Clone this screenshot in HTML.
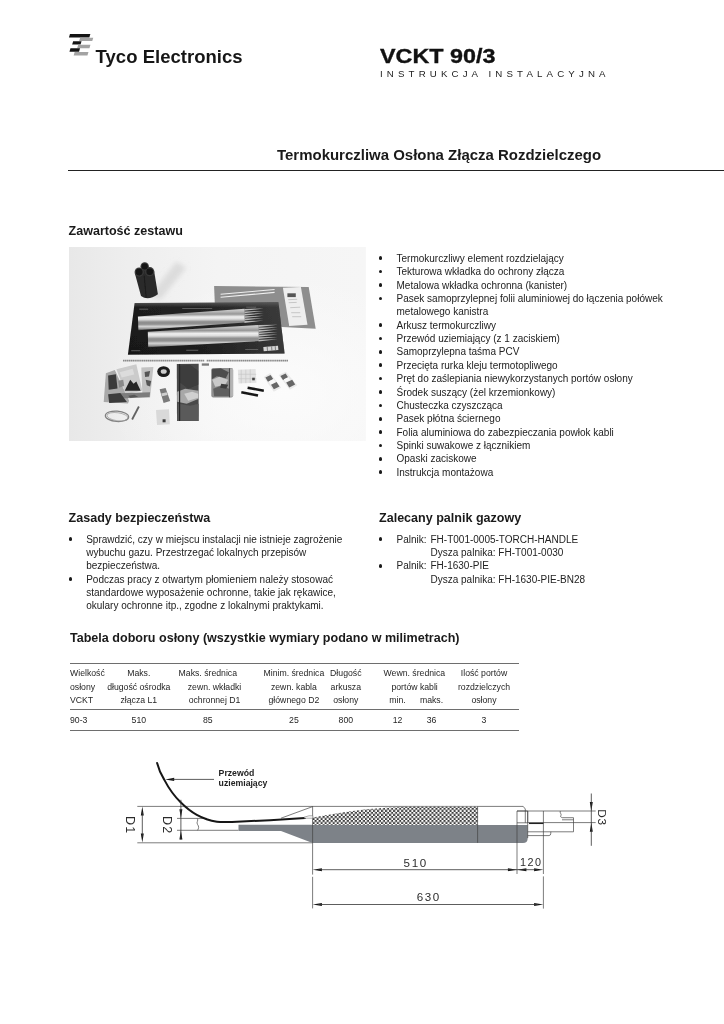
<!DOCTYPE html>
<html lang="pl">
<head>
<meta charset="utf-8">
<title>VCKT 90/3 Instrukcja instalacyjna</title>
<style>
html,body{margin:0;padding:0;background:#fff;}
body{width:724px;height:1024px;position:relative;overflow:hidden;will-change:transform;font-family:"Liberation Sans",sans-serif;color:#1a1a1a;}
.abs{position:absolute;white-space:nowrap;}
.logo-text{left:95.6px;top:44.5px;font-size:18.5px;font-weight:bold;letter-spacing:0.02px;line-height:24px;color:#161616;}
.h-model{left:379.6px;top:43.2px;font-size:20.4px;font-weight:bold;line-height:26px;letter-spacing:0;color:#111;transform:scaleX(1.145);transform-origin:0 0;-webkit-text-stroke:0.35px #111;}
.h-sub{left:380px;top:67.7px;font-size:9.7px;line-height:12px;letter-spacing:4.14px;color:#222;}
.title{left:277px;top:146px;font-size:14.98px;font-weight:bold;line-height:18px;color:#1a1a1a;}
.rule{position:absolute;left:68px;top:170px;width:656px;height:1px;background:#222;}
.h2{font-size:12.55px;font-weight:bold;line-height:16px;color:#1a1a1a;}
.list{position:absolute;font-size:10px;line-height:13.35px;color:#222;}
.list div{position:relative;padding-left:17px;white-space:nowrap;}
.list.ll div{padding-left:16.7px}
.list .tb{position:absolute;left:51px;top:0}
.list div.b:before{content:"";position:absolute;left:-0.7px;top:4.7px;width:3.6px;height:3.6px;border-radius:50%;background:#1a1a1a;}
#photo{position:absolute;left:68.8px;top:247.3px;width:296.9px;height:194.1px;}
#tbl{position:absolute;left:0;top:0;width:724px;height:0;font-size:8.7px;color:#262626;}
#tbl .hl{position:absolute;left:70px;width:449px;height:1.3px;background:#6e6e6e;}
#tbl span{position:absolute;white-space:nowrap;line-height:12px;width:120px;margin-left:-60px;text-align:center;}
#tbl span.l{width:auto;margin-left:0;text-align:left;}
#tbl .r1{top:667.4px}#tbl .r2{top:680.6px}#tbl .r3{top:693.6px}#tbl .r4{top:713.6px}
#diagram{position:absolute;left:100px;top:750px;}
</style>
</head>
<body>

<!-- header -->
<svg class="abs" style="left:66px;top:32px" width="30" height="26" viewBox="66 32 30 26">
  <polygon points="69.95,34.05 90.35,34.05 89.35,37.45 68.95,37.45" fill="#141414"/>
  <polygon points="80.15,37.65 93.25,37.65 92.25,41 79.15,41" fill="#a3a3a3"/>
  <polygon points="73.15,41.2 81.55,41.2 80.55,44.55 72.15,44.55" fill="#141414"/>
  <polygon points="78.15,44.8 90.45,44.8 89.45,48.15 77.15,48.15" fill="#a3a3a3"/>
  <polygon points="70.45,48.35 80.05,48.35 79.05,51.7 69.45,51.7" fill="#141414"/>
  <polygon points="74.65,51.95 88.45,51.95 87.45,55.4 73.65,55.4" fill="#a3a3a3"/>
</svg>
<div class="abs logo-text">Tyco Electronics</div>
<div class="abs h-model">VCKT 90/3</div>
<div class="abs h-sub">INSTRUKCJA INSTALACYJNA</div>

<div class="abs title">Termokurczliwa Osłona Złącza Rozdzielczego</div>
<div class="rule"></div>

<div class="abs h2" style="left:68.5px;top:222.9px">Zawartość zestawu</div>

<!-- PHOTO -->
<svg id="photo" viewBox="68.8 247.3 296.9 194.1" preserveAspectRatio="none">
<defs>
<linearGradient id="bg" x1="0" y1="0" x2="1" y2="0"><stop offset="0" stop-color="#e8e8e8"/><stop offset="0.2" stop-color="#eeeeee"/><stop offset="0.5" stop-color="#f4f4f4"/><stop offset="1" stop-color="#f6f6f6"/></linearGradient>
<radialGradient id="bg2" cx="0.72" cy="0.75" r="0.6"><stop offset="0" stop-color="#fcfcfc" stop-opacity="0.9"/><stop offset="1" stop-color="#fcfcfc" stop-opacity="0"/></radialGradient>
<linearGradient id="tube" x1="0" y1="0" x2="0.03" y2="1"><stop offset="0" stop-color="#d2d2d2"/><stop offset="0.12" stop-color="#c2c2c2"/><stop offset="0.27" stop-color="#969696"/><stop offset="0.4" stop-color="#efefef"/><stop offset="0.5" stop-color="#dcdcdc"/><stop offset="0.62" stop-color="#8e8e8e"/><stop offset="0.72" stop-color="#909090"/><stop offset="0.82" stop-color="#d2d2d2"/><stop offset="0.91" stop-color="#a8a8a8"/><stop offset="1" stop-color="#4e4e4e"/></linearGradient>
<linearGradient id="mat" x1="0" y1="0" x2="0" y2="1"><stop offset="0" stop-color="#5a5a5a"/><stop offset="0.05" stop-color="#3a3a3a"/><stop offset="0.1" stop-color="#1e1e1e"/><stop offset="1" stop-color="#171717"/></linearGradient>
<linearGradient id="mat2" x1="0" y1="0" x2="1" y2="0"><stop offset="0" stop-color="#555" stop-opacity="0"/><stop offset="0.5" stop-color="#555" stop-opacity="0.12"/><stop offset="1" stop-color="#5a5a5a" stop-opacity="0.5"/></linearGradient>
<filter id="soft" x="-5%" y="-5%" width="110%" height="110%"><feGaussianBlur stdDeviation="0.45"/></filter>
<filter id="soft2" x="-20%" y="-20%" width="140%" height="140%"><feGaussianBlur stdDeviation="2.5"/></filter>
<clipPath id="pc"><rect x="68.8" y="247.3" width="296.9" height="194.1"/></clipPath>
</defs>
<rect x="68.8" y="247.3" width="296.9" height="194.1" fill="url(#bg)"/>
<rect x="68.8" y="247.3" width="296.9" height="194.1" fill="url(#bg2)"/>
<g clip-path="url(#pc)"><g filter="url(#soft)">
<!-- shadow of cylinder -->
<path d="M150 296L176 262L186 268L160 300Z" fill="#dcdcdc" filter="url(#soft2)"/>
<!-- gray sheet -->
<path d="M213.9 286.3L308.5 287.4L315.5 329L282 327.4L214.6 303Z" fill="#8e8e8e"/>
<path d="M220.4 294.5L274.4 289.8M220.4 297.6L274.4 292.7" stroke="#efefef" stroke-width="1.1"/>
<!-- instruction sheet -->
<path d="M282.7 288.1L300.7 287.4L307.3 325L289 326.2Z" fill="#eeeeee"/>
<path d="M287.2 293.6h8.4v3.8h-8.4z" fill="#555"/>
<path d="M288 300l9 -.4M288.5 303l8 -.3M290 308l10 -.5M291 313h9M292 317h9" stroke="#bdbdbd" stroke-width="0.8"/>
<!-- mat -->
<path d="M134.4 303.4L278.2 302.3L284.4 353.7L127.7 355.1Z" fill="url(#mat)"/><path d="M134.4 303.4L278.2 302.3L284.4 353.7L127.7 355.1Z" fill="url(#mat2)"/>
<path d="M139 309.5h9M182 308.8h30M246 307.5h10M131 351h9M186 350.6h12M245 349.8h13" stroke="#6c6c6c" stroke-width="0.8"/>
<path d="M263.1 347.4L277.8 346L278.2 350.4L263.5 351.6Z" fill="#d4d4d4"/><path d="M267 347.2l.3 4M271.4 346.8l.3 4M275 346.4l.3 4" stroke="#666" stroke-width="0.8"/>
<!-- tube 1 -->
<path d="M137.7 316.7L244.4 309.1L244.6 322.8L138.2 330.6Z" fill="url(#tube)"/>
<path d="M244.2 309.2L263.4 308.8L244.2 311.1ZM244.2 311.7L263.4 311.2L244.2 313.6ZM244.2 314.1L263.4 313.6L244.2 316.0ZM244.2 316.5L263.4 316.1L244.2 318.4ZM244.2 318.9L263.4 318.5L244.2 320.8ZM244.2 321.4L263.4 320.9L244.2 323.2Z" fill="#b6b6b6"/>
<!-- tube 2 -->
<path d="M147.6 332L258.5 325.2L258.7 341.4L148 347.6Z" fill="url(#tube)"/>
<path d="M258.3 325.4L277.4 325.1L258.3 327.3ZM258.3 327.9L277.4 327.5L258.3 329.8ZM258.3 330.3L277.4 329.9L258.3 332.2ZM258.3 332.7L277.4 332.4L258.3 334.6ZM258.3 335.1L277.4 334.8L258.3 337.0ZM258.3 337.6L277.4 337.2L258.3 339.4ZM258.3 340.0L277.4 339.6L258.3 341.9Z" fill="#b6b6b6"/>
<!-- black cylinder -->
<path d="M134.5 273L140.8 296.4Q148 301.6 157.7 294.6L153.9 271Z" fill="#2c2c2c"/>
<path d="M139 272L144.5 266L149.5 272L144.5 278Z" fill="#2c2c2c"/><circle cx="144.5" cy="266.7" r="4.2" fill="#383838"/><circle cx="139" cy="272.4" r="4.6" fill="#383838"/><circle cx="149.5" cy="272" r="4.6" fill="#383838"/>
<circle cx="144.5" cy="266.7" r="3" fill="#121212"/><circle cx="139" cy="272.4" r="3.3" fill="#121212"/><circle cx="149.5" cy="272" r="3.3" fill="#121212"/>
<path d="M144 276l2 22" stroke="#1c1c1c" stroke-width="1.2"/>
<!-- zipper strips -->
<path d="M122.8 360.9H204M206.5 360.9H287.8" stroke="#8a8a8a" stroke-width="1.9" stroke-dasharray="1.5 0.4"/>
<rect x="201.6" y="363.7" width="7.2" height="2.3" fill="#7c7c7c"/>
<!-- foil pouches -->
<path d="M105.7 373.5L114.6 370.2L128.9 401.1L127.8 403.9L103.5 402.2Z" fill="#a9a9a9"/>
<path d="M141.1 367.9L153.2 367.4L149.9 397.8L142.2 395.6Z" fill="#c2c2c2"/>
<path d="M116.2 369.6L136.1 364.6L142.2 391.1L125.6 394.5Z" fill="#cbcbcb"/>
<path d="M120 393.6L149.9 392.6L149.4 397.6L120.6 398.9Z" fill="#7c7c7c"/>
<path d="M107.9 375.7L115.7 374.6L117.3 388.9L108.5 390ZM107.9 394.5L120.1 393.4L126.7 402.2L109 403.3Z" fill="#3a3a3a"/>
<path d="M124.5 391.1L130 380.1L133.4 384L136.1 381.8L140.5 391.1Z" fill="#262626"/>
<path d="M144.4 372.4l5.5 -1.1l-1.1 5.5l-3.9 .6zM145.5 380.1l5.5 1.1l-1.1 5.5l-3.3 -1.1zM128 396l6 -1l4 2l-8 1z" fill="#555"/>
<path d="M119.5 372.5l13 -3.4l1.6 5.6l-12.6 3.2z" fill="#dcdcdc"/>
<path d="M118 381l5 -1l1 6l-5 2z" fill="#8a8a8a"/>
<!-- tape roll -->
<ellipse cx="163.4" cy="371.9" rx="6.4" ry="5.4" fill="#1b1b1b"/><ellipse cx="163.5" cy="371.8" rx="3" ry="2.3" fill="#cdcdcd"/>
<!-- bottle -->
<path d="M159.4 389.6L165.4 388.4L170 401.4L163.4 403.2Z" fill="#7a7a7a"/>
<path d="M161 393.8l5.4 -1.2l1 2.6l-5.4 1.3z" fill="#cfcfcf"/>
<!-- small bag -->
<path d="M155.8 410.4L168.8 409.6L169.6 424.6L156.8 425.2Z" fill="#d9d9d9"/>
<rect x="162.4" y="419.6" width="3" height="3" fill="#3a3a3a"/>
<!-- dark tall strip -->
<path d="M176.6 364.3L198.5 364.1L198.4 421.4L176.8 421.2Z" fill="#4a4a4a"/>
<path d="M180 366l10 -1l8 6v14l-10 4l-8 -6z" fill="#3c3c3c"/>
<path d="M177 392l8 -3l13.5 2v8l-12 5l-9.5 -2z" fill="#a8a8a8"/>
<path d="M184 394l8 -2l6 2v4l-10 3z" fill="#d0d0d0"/>
<path d="M178 404l12 2l8.4 -2v17.2l-21.4 -.2z" fill="#5a5a5a"/>
<path d="M179.4 364.4v56.8" stroke="#262626" stroke-width="1.2"/>
<!-- rubber band -->
<ellipse cx="116.8" cy="416.6" rx="11.7" ry="5.2" fill="none" stroke="#808080" stroke-width="1.2" transform="rotate(4 116.8 416.6)"/><ellipse cx="117.4" cy="417" rx="10.6" ry="4" fill="none" stroke="#9a9a9a" stroke-width="0.7" transform="rotate(8 117 416.6)"/>
<path d="M138.7 406.8L131.9 419.8" stroke="#636363" stroke-width="1.8"/>
<!-- camo bag -->
<rect x="211.1" y="368.2" width="21.9" height="29.6" rx="2" fill="#8f8f8f"/>
<path d="M211.6 369.5l9 -1l8 4l-3 6l-9 -2l-5 3z" fill="#4e4e4e"/>
<path d="M212 380l7 -3l9 3l-3 5l-10 2z" fill="#c9c9c9"/>
<path d="M213 389l8 -3l8 3v7.5h-15z" fill="#606060"/>
<path d="M221 384l7 1l-2 4l-6 -1z" fill="#3c3c3c"/>
<path d="M229.3 368.6v29" stroke="#3a3a3a" stroke-width="0.8"/>
<rect x="230" y="369" width="2.8" height="28" fill="#b4b4b4"/>
<!-- white sachet -->
<path d="M237.6 370L255.4 369.2L256.2 383L238.4 383.8Z" fill="#e3e3e3"/>
<path d="M241 370v13.6M245.6 370v13.4M250 369.6v13.6M238 374.6h18M238.2 379h18" stroke="#c4c4c4" stroke-width="0.6"/>
<rect x="252" y="378" width="2.6" height="2.6" fill="#444"/>
<!-- black bars -->
<path d="M247.4 388L263.6 391" stroke="#181818" stroke-width="2.6"/>
<path d="M241.1 392.5L257.8 395.9" stroke="#181818" stroke-width="2.6"/>
<!-- connector packs -->
<path d="M263.4 377.4L270 373.4L281 388L273.6 392Z" fill="#e9e9e9"/>
<path d="M278.4 375.4L285.6 372L297 385.6L289.6 390Z" fill="#e9e9e9"/>
<path d="M265.2 377.8l5.2 -2.6l2.6 4.2l-5.2 2.6zM270.8 385l5.6 -2.8l2.9 4.6l-5.6 2.8zM280.2 376.2l5.2 -2.4l2.6 4l-5.2 2.5zM286 382.8l6 -2.8l3 4.8l-6 2.9z" fill="#666"/>
<path d="M268.6 381.8l5 -2.4l1.8 3l-5 2.5zM283.6 379.6l4.6 -2.2l1.7 2.8l-4.6 2.3z" fill="#f8f8f8"/>
</g></g>
</svg>

<div class="list" style="left:379.5px;top:251.8px;line-height:13.37px">
<div class="b">Termokurczliwy element rozdzielający</div>
<div class="b">Tekturowa wkładka do ochrony złącza</div>
<div class="b">Metalowa wkładka ochronna (kanister)</div>
<div class="b">Pasek samoprzylepnej folii aluminiowej do łączenia połówek</div>
<div>metalowego kanistra</div>
<div class="b">Arkusz termokurczliwy</div>
<div class="b">Przewód uziemiający (z 1 zaciskiem)</div>
<div class="b">Samoprzylepna taśma PCV</div>
<div class="b">Przecięta rurka kleju termotopliwego</div>
<div class="b">Pręt do zaślepiania niewykorzystanych portów osłony</div>
<div class="b">Środek suszący (żel krzemionkowy)</div>
<div class="b">Chusteczka czyszcząca</div>
<div class="b">Pasek płótna ściernego</div>
<div class="b">Folia aluminiowa do zabezpieczania powłok kabli</div>
<div class="b">Spinki suwakowe z łącznikiem</div>
<div class="b">Opaski zaciskowe</div>
<div class="b">Instrukcja montażowa</div>
</div>

<div class="abs h2" style="left:68.6px;top:510.2px">Zasady bezpieczeństwa</div>
<div class="list ll" style="left:69.5px;top:532.6px;line-height:13.33px">
<div class="b">Sprawdzić, czy w miejscu instalacji nie istnieje zagrożenie</div>
<div>wybuchu gazu. Przestrzegać lokalnych przepisów</div>
<div>bezpieczeństwa.</div>
<div class="b">Podczas pracy z otwartym płomieniem należy stosować</div>
<div>standardowe wyposażenie ochronne, takie jak rękawice,</div>
<div>okulary ochronne itp., zgodne z lokalnymi praktykami.</div>
</div>

<div class="abs h2" style="left:379px;top:510.2px">Zalecany palnik gazowy</div>
<div class="list" style="left:379.5px;top:532.6px;line-height:13.33px">
<div class="b">Palnik:<span class="tb">FH-T001-0005-TORCH-HANDLE</span></div>
<div style="padding-left:51px">Dysza palnika: FH-T001-0030</div>
<div class="b">Palnik:<span class="tb">FH-1630-PIE</span></div>
<div style="padding-left:51px">Dysza palnika: FH-1630-PIE-BN28</div>
</div>

<div class="abs h2" style="left:70px;top:630.3px;">Tabela doboru osłony (wszystkie wymiary podano w milimetrach)</div>

<!-- TABLE -->
<div id="tbl">
<div class="hl" style="top:662.7px"></div>
<div class="hl" style="top:709.1px"></div>
<div class="hl" style="top:729.5px"></div>
<span class="l r1" style="left:70px">Wielkość</span><span class="l r2" style="left:70px">osłony</span><span class="l r3" style="left:70px">VCKT</span><span class="l r4" style="left:70px">90-3</span>
<span class="r1" style="left:138.8px">Maks.</span><span class="r2" style="left:138.8px">długość ośrodka</span><span class="r3" style="left:138.8px">złącza L1</span><span class="r4" style="left:138.8px">510</span>
<span class="r1" style="left:207.8px">Maks. średnica</span><span class="r2" style="left:214.5px">zewn. wkładki</span><span class="r3" style="left:214.5px">ochronnej D1</span><span class="r4" style="left:207.8px">85</span>
<span class="r1" style="left:293.9px">Minim. średnica</span><span class="r2" style="left:293.9px">zewn. kabla</span><span class="r3" style="left:293.9px">głównego D2</span><span class="r4" style="left:293.9px">25</span>
<span class="r1" style="left:345.8px">Długość</span><span class="r2" style="left:345.8px">arkusza</span><span class="r3" style="left:345.8px">osłony</span><span class="r4" style="left:345.8px">800</span>
<span class="r1" style="left:414.4px">Wewn. średnica</span><span class="r2" style="left:414.6px">portów kabli</span><span class="r3" style="left:397.5px">min.</span><span class="r3" style="left:431.5px">maks.</span><span class="r4" style="left:397.5px">12</span><span class="r4" style="left:431.6px">36</span>
<span class="r1" style="left:484px">Ilość portów</span><span class="r2" style="left:484px">rozdzielczych</span><span class="r3" style="left:484px">osłony</span><span class="r4" style="left:483.8px">3</span>
</div>

<!-- DIAGRAM -->
<svg id="diagram" width="540" height="170" viewBox="100 750 540 170" font-family="Liberation Sans, sans-serif">
<defs>
<pattern id="chk" x="401.2" y="807.8" width="4.03" height="4.06" patternUnits="userSpaceOnUse">
<rect width="4.03" height="4.06" fill="#3c3c3c"/><rect width="2.02" height="2.03" fill="#fff"/><rect x="2.015" y="2.03" width="2.02" height="2.03" fill="#fff"/>
</pattern>
</defs>
<g fill="none" stroke="#444" stroke-width="0.7">
<!-- D1 extension lines -->
<path d="M137.3 806.4H523.2L525.3 809V811"/>
<path d="M137.3 842.8H312.6"/>
<!-- D2 lines -->
<path d="M177 818.4H197.3M177 830.3H238.5"/>
<!-- cable left with break -->
<path d="M197.3 818.4c1.6 2,-1.4 4,0.2 6s1.4 4,0 5.9"/>
<path d="M197.3 818.4H207"/>
<!-- diagonal -->
<path d="M281 818.2L312.6 806.6"/>
</g>
<!-- gray body -->
<path d="M238.5 824.8H312.6V825H527.7V838.5Q527.5 843 523 843H312.6L281 831H238.5Z" fill="#7d8288"/>
<!-- checker -->
<path d="M312.6 824.8V817.6C330 814.5 348 811.2 366 809.3C385 807.4 400 806.9 415 806.7H477.6V824.8Z" fill="url(#chk)"/>
<g fill="none" stroke="#444" stroke-width="0.7">
<path d="M312.6 806.4V874.6M312.6 876.8V908.4"/>
<path d="M477.6 806.4V842.8"/>
<path d="M517 811V874"/>
<path d="M543.4 811V874M543.4 876.4V908.6"/>
<!-- small box -->
<path d="M517 811H527.7V822.8H517M525.3 811V822.8"/>
<!-- right cables -->
<path d="M517 811H595.7M527.7 822.6H595.7"/>
<path d="M560.3 811c-1 1.6,1.6 3,0.6 4.6s0.6 1.6,1.2 2.1H573.5V831.8H527.7"/>
<path d="M562 819.8H573.5"/>
<path d="M527.7 835.6H549Q550.8 835.6 550.8 833.2V831.8"/>
<path d="M527.7 811V838"/>
</g>
<path d="M529 823.4H543.4" stroke="#222" stroke-width="1.3"/>
<!-- wire -->
<path d="M157.1 763C158.6 769 161 774.5 164.2 779.6C168.4 787.6 173.6 795.4 180.6 802.2C185.4 807 190.6 811.4 196.8 814.8C203.4 818.4 210 820.6 216.9 821.7C221 822.3 226 822.2 232 821.9L270 820.2L305 817.9" fill="none" stroke="#161616" stroke-width="2" stroke-linecap="round"/>
<path d="M304 817.2L309 815.8H312.8V818.2H304.5Z" fill="#fff" stroke="#555" stroke-width="0.5"/>
<!-- arrows -->
<g fill="#161616" stroke="none">
<path d="M165.2 779.4l9 -1.6v3.2z"/>
<path d="M142.3 806.6l-1.5 9h3z M142.3 842.6l-1.5 -9h3z"/>
<path d="M180.9 818.3l-1.5 -9h3z M180.9 830.4l-1.5 9h3z"/>
<path d="M591.3 810.9l-1.5 -9h3z M591.3 822.7l-1.5 9h3z"/>
<path d="M312.7 869.7l9.2 -1.5v3z M517.1 869.7l-9.2 -1.5v3z M517.2 869.7l9.2 -1.5v3z M543.3 869.7l-9.2 -1.5v3z"/>
<path d="M312.7 904.5l9.2 -1.5v3z M543.3 904.5l-9.2 -1.5v3z"/>
</g>
<g fill="none" stroke="#333" stroke-width="0.8">
<path d="M172 779.4H214"/>
<path d="M142.3 812V837"/>
<path d="M180.9 799.8V839.6"/>
<path d="M591.3 793.5V845.8"/>
<path d="M318 869.7H538"/>
<path d="M318 904.5H538"/>
</g>
<g fill="#222" font-size="8.7" font-weight="bold">
<text x="218.6" y="776.2">Przewód</text>
<text x="218.6" y="786.2">uziemiający</text>
</g>
<g fill="#2c2c2c" font-size="11.6" text-anchor="middle" letter-spacing="1.6">
<text x="415.7" y="867">510</text>
<text x="531.3" y="866.2" font-size="10.8" letter-spacing="1.5">120</text>
<text x="428.8" y="900.6">630</text>
</g>
<g fill="#2c2c2c" font-size="12.5" text-anchor="middle" letter-spacing="1.2">
<text transform="translate(126.2 825.2) rotate(90)">D1</text>
<text transform="translate(163.3 825.2) rotate(90)">D2</text>
<text transform="translate(598.4 817.4) rotate(90)" font-size="11.8" letter-spacing="0.6">D3</text>
</g>
</svg>

</body>
</html>
